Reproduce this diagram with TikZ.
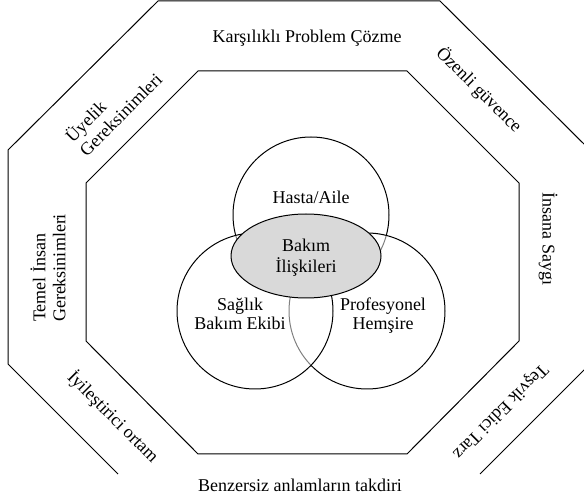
\documentclass[tikz,border=0pt]{standalone}
\usepackage{fontspec}
\setmainfont{Liberation Serif}
\usetikzlibrary{shapes.geometric}
\begin{document}
\begin{tikzpicture}[x=1pt,y=-1pt,
  lbl/.style={font=\fontsize{18}{20}\selectfont, inner sep=0pt, align=center},
  ring/.style={line width=1pt, line join=miter},
  venn/.style={circle, draw, line width=1pt, fill=white, fill opacity=0.5, minimum size=156pt, inner sep=0pt},
  core/.style={ellipse, draw, line width=1pt, fill=black!15, minimum width=150pt, minimum height=84pt, inner sep=0pt}]
\useasboundingbox (0,0) rectangle (584,502);
% outer ring (open at the bottom, right side beyond the frame)
\begin{scope}
  \clip (0,0) rectangle (584,502);
  \draw[ring] (118,474) -- (8,364) -- (8,150) -- (158,1) -- (440,1) -- (590,150) -- (590,364) -- (480,474);
\end{scope}
% inner octagon
\draw[ring] (198,71) -- (407,71) -- (519,183) -- (519,341) -- (407,454) -- (198,454) -- (86,341) -- (86,183) -- cycle;
% Venn circles
\node[venn] (hasta) at (311,215) {};
\node[venn] (prof) at (367,311) {};
\node[venn] (saglik) at (255,311) {};
\node[core] (bakim) at (306,256) {};
% inner labels (base = baseline of the last line)
\node[lbl, anchor=base] (thasta) at (311,204) {Hasta/Aile};
\node[lbl, anchor=base] (tbakim) at (306,273) {Bakım\\[1pt]İlişkileri};
\node[lbl, anchor=base] (tsaglik) at (240,330) {Sağlık\\[-1pt]Bakım Ekibi};
\node[lbl, anchor=base] (tprof) at (383,330) {Profesyonel\\[-1pt]Hemşire};
% ring labels
\node[lbl, anchor=base] (kars) at (307,43) {Karşılıklı Problem Çözme};
\node[lbl, anchor=base] (benz) at (300,492) {Benzersiz anlamların takdiri};
\node[lbl, rotate=-45] (ozen) at (479,90) {Özenli güvence};
\node[lbl, rotate=-90] (insana) at (548,239) {İnsana Saygı};
\node[lbl, rotate=-135] (tesvik) at (500,411) {Teşvik Edici Tarz};
\node[lbl, rotate=-45] (iyi) at (113,417) {İyileştirici ortam};
\node[lbl, rotate=90, align=left] (temel) at (48,268) {Temel İnsan\\Gereksinimleri};
\node[lbl, rotate=45, align=left] (uyelik) at (113,107) {Üyelik\\Gereksinimleri};
\end{tikzpicture}
\end{document}
